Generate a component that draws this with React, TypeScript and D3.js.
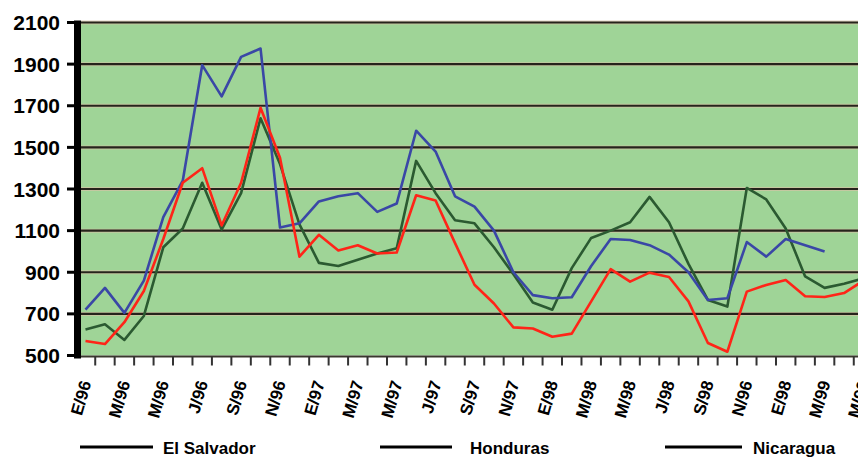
import React, { useEffect, useRef } from "react";
import * as d3 from "d3";

// 41 months: Jan 1996 .. May 1999
const months = [
  "E/96","F/96","M/96","A/96","M/96","J/96","J/96","A/96","S/96","O/96","N/96","D/96",
  "E/97","F/97","M/97","A/97","M/97","J/97","J/97","A/97","S/97","O/97","N/97","D/97",
  "E/98","F/98","M/98","A/98","M/98","J/98","J/98","A/98","S/98","O/98","N/98","D/98",
  "E/99","F/99","M/99","A/99","M/99",
];

// Axis labels as printed (every second month)
const xTickLabels = [
  "E/96","M/96","M/96","J/96","S/96","N/96","E/97","M/97","M/97","J/97","S/97",
  "N/97","E/98","M/98","M/98","J/98","S/98","N/96","E/98","M/99","M/99",
];

const yTicks = [500, 700, 900, 1100, 1300, 1500, 1700, 1900, 2100];

const legendNames = ["El Salvador", "Honduras", "Nicaragua"];

// red
const elSalvador: (number | null)[] = [
  570, 555, 660, 810, 1060, 1330, 1400, 1125, 1330, 1690, 1450, 975,
  1080, 1005, 1030, 990, 995, 1270, 1245, 1040, 840, 750, 635, 630,
  590, 605, 760, 915, 855, 898, 877, 760, 560, 518, 807, 839,
  863, 785, 781, 800, 860,
];

// blue
const honduras: (number | null)[] = [
  720, 825, 705, 860, 1165, 1340, 1895, 1745, 1935, 1975, 1115, 1135,
  1240, 1265, 1280, 1190, 1230, 1580, 1480, 1265, 1215, 1100, 900, 790,
  775, 780, 930, 1060, 1055, 1030, 985, 900, 767, 775, 1045, 975,
  1060, 1030, 1000, null, null,
];

// green
const nicaragua: (number | null)[] = [
  625, 650, 575, 690, 1020, 1110, 1330, 1105, 1280, 1640, 1420, 1130,
  945, 930, 960, 990, 1015, 1435, 1280, 1150, 1135, 1020, 890, 755,
  720, 920, 1065, 1100, 1140, 1262, 1140, 940, 767, 735, 1305, 1250,
  1110, 880, 825, 845, 870,
];

const W = 858;
const H = 457;

export default function App() {
  const ref = useRef<SVGSVGElement>(null);

  useEffect(() => {
    const svg = d3.select(ref.current);
    svg.selectAll("*").remove();

    const plotLeft = 81;
    const plotRight = W;
    const x = d3.scaleLinear().domain([0, months.length - 1]).range([85.5, 863.5]);
    const y = d3.scaleLinear().domain([500, 2100]).range([355.5, 22.5]);
    const font = "'Liberation Sans', Arial, Helvetica, sans-serif";

    svg.append("rect").attr("width", W).attr("height", H).attr("fill", "#ffffff");

    const defs = svg.append("defs");
    defs.append("clipPath").attr("id", "plotclip")
      .append("rect").attr("x", plotLeft).attr("y", y(2100) - 2)
      .attr("width", plotRight - plotLeft).attr("height", y(500) - y(2100) + 3);

    // background
    svg.append("rect")
      .attr("x", plotLeft).attr("y", y(2100))
      .attr("width", plotRight - plotLeft).attr("height", y(500) - y(2100))
      .attr("fill", "#9fd497");

    // gridlines
    const grid = svg.append("g");
    yTicks.filter(v => v > 500).forEach(v => {
      grid.append("line")
        .attr("x1", plotLeft).attr("x2", plotRight)
        .attr("y1", y(v)).attr("y2", y(v))
        .attr("stroke", "#d6c3a6").attr("stroke-width", 4).attr("opacity", 0.7);
      grid.append("line")
        .attr("x1", plotLeft).attr("x2", plotRight)
        .attr("y1", y(v)).attr("y2", y(v))
        .attr("stroke", "#26241c").attr("stroke-width", 2.2);
    });

    // bottom axis
    svg.append("line")
      .attr("x1", plotLeft).attr("x2", plotRight)
      .attr("y1", y(500) + 1).attr("y2", y(500) + 1)
      .attr("stroke", "#3a382e").attr("stroke-width", 2);
    const tickG = svg.append("g");
    for (let k = 0; k < months.length - 1; k++) {
      const tx = x(k + 0.5);
      tickG.append("line")
        .attr("x1", tx).attr("x2", tx)
        .attr("y1", y(500) + 1).attr("y2", y(500) + 10)
        .attr("stroke", "#333").attr("stroke-width", 2);
    }

    // series lines
    const line = d3.line<number | null>()
      .defined(d => d != null)
      .x((_, i) => x(i))
      .y(d => y(d as number));
    const series = [
      { data: nicaragua, color: "#2b5a31" },
      { data: honduras, color: "#3a47a6" },
      { data: elSalvador, color: "#ff2418" },
    ];
    const lg = svg.append("g").attr("clip-path", "url(#plotclip)");
    series.forEach(s => {
      lg.append("path")
        .attr("d", line(s.data) || "")
        .attr("fill", "none")
        .attr("stroke", s.color)
        .attr("stroke-width", 2.6)
        .attr("stroke-linejoin", "round");
    });

    // left axis
    svg.append("rect")
      .attr("x", 74).attr("y", y(2100) - 2)
      .attr("width", 7).attr("height", y(500) - y(2100) + 5)
      .attr("fill", "#000");
    yTicks.forEach(v => {
      svg.append("line")
        .attr("x1", 67).attr("x2", 75)
        .attr("y1", y(v)).attr("y2", y(v))
        .attr("stroke", "#000").attr("stroke-width", 3);
      svg.append("text")
        .attr("x", 60).attr("y", y(v))
        .attr("dy", "0.36em")
        .attr("text-anchor", "end")
        .attr("font-family", font)
        .attr("font-weight", "bold")
        .attr("font-size", 21)
        .attr("fill", "#000")
        .text(String(v));
    });

    // x labels
    xTickLabels.forEach((lab, j) => {
      const i = j * 2;
      const lx = x(i);
      const ly = 381;
      svg.append("text")
        .attr("transform", `translate(${lx},${ly}) rotate(-74)`)
        .attr("dy", "0.36em")
        .attr("text-anchor", "end")
        .attr("font-family", font)
        .attr("font-weight", "bold")
        .attr("font-size", 17)
        .attr("fill", "#000")
        .text(lab);
    });

    // legend
    const legendPos = [
      { x1: 80, x2: 153, tx: 163 },
      { x1: 380, x2: 452, tx: 470 },
      { x1: 665, x2: 742, tx: 753 },
    ];
    legendNames.forEach((name, k) => {
      const p = legendPos[k];
      svg.append("line")
        .attr("x1", p.x1).attr("x2", p.x2)
        .attr("y1", 447).attr("y2", 447)
        .attr("stroke", "#000").attr("stroke-width", 3);
      svg.append("text")
        .attr("x", p.tx).attr("y", 448)
        .attr("dy", "0.35em")
        .attr("font-family", font)
        .attr("font-weight", "bold")
        .attr("font-size", 17)
        .attr("fill", "#000")
        .text(name);
    });
  }, []);

  return (
    <svg
      ref={ref}
      width={W}
      height={H}
      style={{ position: "absolute", left: 0, top: 0, display: "block" }}
    />
  );
}
